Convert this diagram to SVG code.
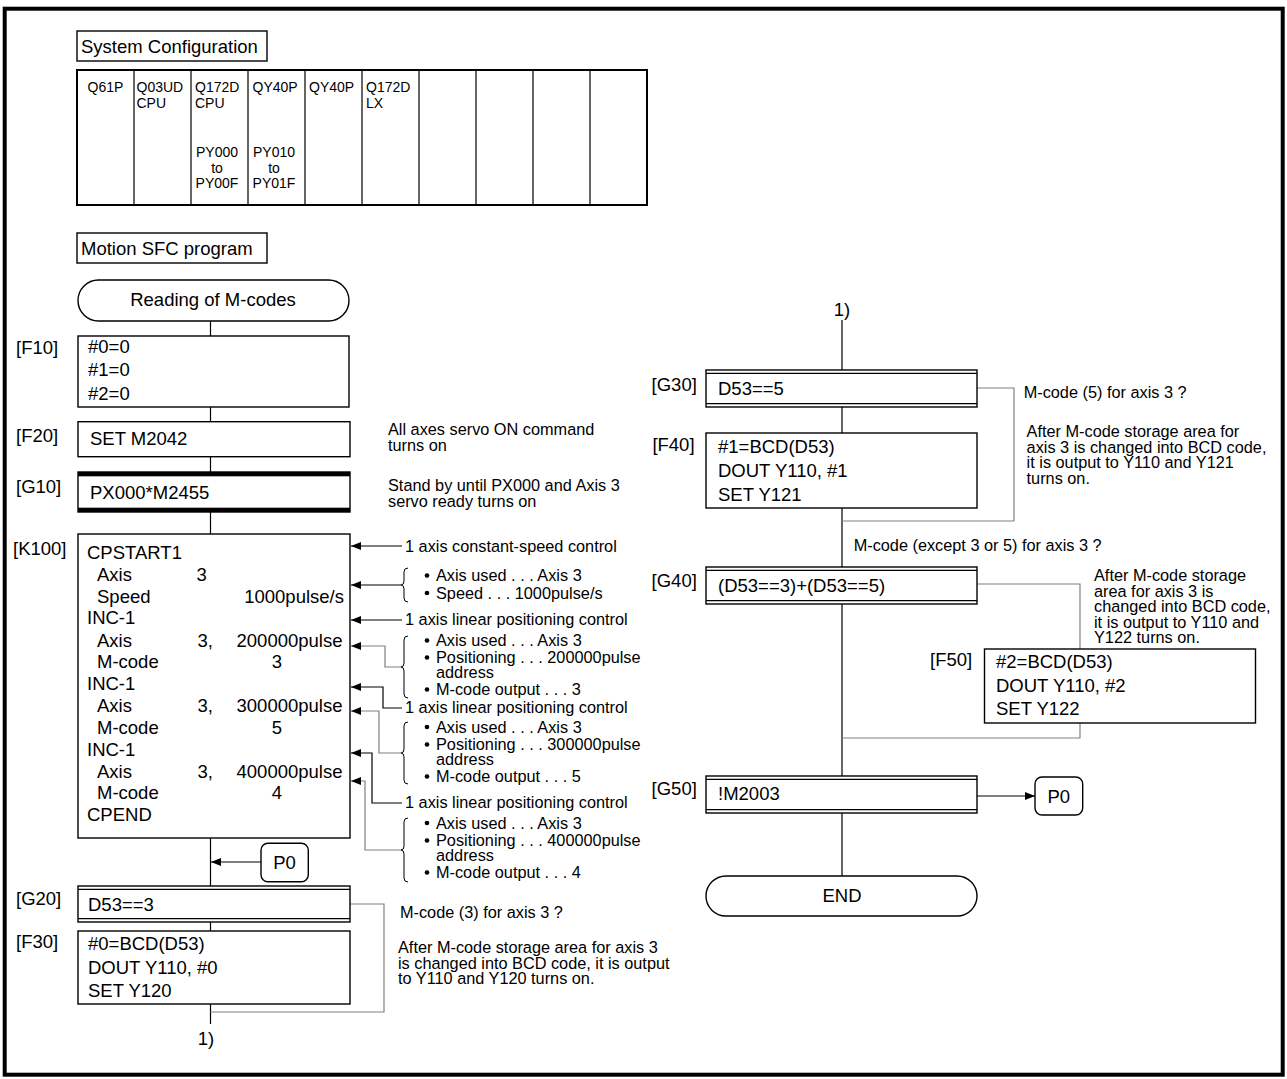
<svg xmlns="http://www.w3.org/2000/svg" width="1287" height="1079" viewBox="0 0 1287 1079">
<defs>
<marker id="ah" markerUnits="userSpaceOnUse" markerWidth="10" markerHeight="8" refX="10" refY="4" orient="auto"><path d="M0,0 L10,4 L0,8 z" fill="#000"/></marker>
<style>
text{font-family:"Liberation Sans",Arial,sans-serif;fill:#000}
.f{font-size:18.5px}
.a{font-size:16.3px}
.s{font-size:14px}
.box{fill:#fff;stroke:#000;stroke-width:1.4}
.ln{fill:none;stroke:#000;stroke-width:1.2}
.gl{fill:none;stroke:#808080;stroke-width:1.2}
.dl{fill:none;stroke:#000;stroke-width:1.2}
.br{fill:none;stroke:#000;stroke-width:1}
.m{text-anchor:middle}
.e{text-anchor:end}
</style>
</defs>
<rect x="4.7" y="8.7" width="1278" height="1066" fill="#fff" stroke="#000" stroke-width="4"/>

<g id="sysconf-title"><rect class="box" x="77" y="31" width="190" height="30"/><text class="f" x="81" y="53">System Configuration</text></g>
<g id="sysconf-table">
<rect x="77" y="70" width="570" height="135" fill="#fff" stroke="#000" stroke-width="2"/>
<path class="ln" d="M134 70V205M191 70V205M248 70V205M305 70V205M362 70V205M419 70V205M476 70V205M533 70V205M590 70V205"/>
<text class="s m" x="105.5" y="92">Q61P</text>
<text class="s" x="136.5" y="92">Q03UD</text><text class="s" x="136.5" y="107.5">CPU</text>
<text class="s" x="195" y="92">Q172D</text><text class="s" x="195" y="107.5">CPU</text>
<text class="s m" x="217" y="157">PY000</text><text class="s m" x="217" y="172.5">to</text><text class="s m" x="217" y="188">PY00F</text>
<text class="s" x="252.5" y="92">QY40P</text>
<text class="s m" x="274" y="157">PY010</text><text class="s m" x="274" y="172.5">to</text><text class="s m" x="274" y="188">PY01F</text>
<text class="s" x="309" y="92">QY40P</text>
<text class="s" x="366" y="92">Q172D</text><text class="s" x="366" y="107.5">LX</text>
</g>
<g id="sfc-title"><rect class="box" x="77" y="233" width="190" height="30"/><text class="f" x="81" y="255">Motion SFC program</text></g>

<g id="connectors">
<path class="ln" d="M210.5 321V336M210.5 407V421.7M210.5 456.7V472M210.5 512V534M210.5 838V886M210.5 922V931M210.5 1004V1024"/>
<path class="ln" d="M261 862H211" marker-end="url(#ah)"/>
<path class="gl" d="M350 904H384V1012H210.5"/>
<path class="ln" d="M402 546H351" marker-end="url(#ah)"/>
<path class="ln" d="M401 585H351" marker-end="url(#ah)"/>
<path class="ln" d="M402 620H351" marker-end="url(#ah)"/>
<path class="gl" d="M401 667H385V646H351" marker-end="url(#ah)"/>
<path class="dl" d="M402 708H383V687H351" marker-end="url(#ah)"/>
<path class="gl" d="M401 753H379V711H351" marker-end="url(#ah)"/>
<path class="dl" d="M402 803H372V753H351" marker-end="url(#ah)"/>
<path class="gl" d="M401 850H365V781H351" marker-end="url(#ah)"/>
<path class="ln" d="M842 320V370M842 407V433M842 508V567M842 604V776M842 813V876"/>
<path class="gl" d="M977 388H1014V521H842"/>
<path class="gl" d="M977 584H1080V649M1080 723V738H842"/>
<path class="ln" d="M977 796H1035" marker-end="url(#ah)"/>
</g>

<g id="start"><rect class="box" x="78" y="280" width="271" height="41" rx="20.5"/><text class="f m" x="213" y="306">Reading of M-codes</text></g>

<g id="F10"><text class="f" x="16" y="354">[F10]</text><rect class="box" x="78" y="336" width="271" height="71"/>
<text class="f" x="88" y="352.5">#0=0</text><text class="f" x="88" y="376">#1=0</text><text class="f" x="88" y="399.5">#2=0</text></g>

<g id="F20"><text class="f" x="16" y="442">[F20]</text><rect class="box" x="78" y="421.7" width="272" height="35"/>
<text class="f" x="90" y="445">SET M2042</text>
<text class="a" x="388" y="435">All axes servo ON command</text><text class="a" x="388" y="450.5">turns on</text></g>

<g id="G10"><text class="f" x="16" y="493">[G10]</text><rect class="box" x="78" y="472" width="272" height="40"/>
<rect x="78" y="472" width="272" height="4.3" fill="#000"/><rect x="78" y="507.7" width="272" height="4.3" fill="#000"/>
<text class="f" x="90" y="498.5">PX000*M2455</text>
<text class="a" x="388" y="491">Stand by until PX000 and Axis 3</text><text class="a" x="388" y="506.5">servo ready turns on</text></g>

<g id="K100"><text class="f" x="13" y="555">[K100]</text><rect class="box" x="78" y="534" width="272" height="304"/>
<text class="f" x="87" y="559.3">CPSTART1</text>
<text class="f" x="97" y="581">Axis</text><text class="f" x="196.5" y="581">3</text>
<text class="f" x="97" y="602.7">Speed</text><text class="f e" x="344" y="602.7">1000pulse/s</text>
<text class="f" x="87" y="624.3">INC-1</text>
<text class="f" x="97" y="646.7">Axis</text><text class="f" x="197.5" y="646.7">3,</text><text class="f e" x="342.5" y="646.7">200000pulse</text>
<text class="f" x="97" y="668.3">M-code</text><text class="f m" x="277" y="668.3">3</text>
<text class="f" x="87" y="690">INC-1</text>
<text class="f" x="97" y="712.3">Axis</text><text class="f" x="197.5" y="712.3">3,</text><text class="f e" x="342.5" y="712.3">300000pulse</text>
<text class="f" x="97" y="734">M-code</text><text class="f m" x="277" y="734">5</text>
<text class="f" x="87" y="755.7">INC-1</text>
<text class="f" x="97" y="777.7">Axis</text><text class="f" x="197.5" y="777.7">3,</text><text class="f e" x="342.5" y="777.7">400000pulse</text>
<text class="f" x="97" y="799.3">M-code</text><text class="f m" x="277" y="799.3">4</text>
<text class="f" x="87" y="821">CPEND</text></g>

<g id="K100-notes">
<text class="a" x="405" y="551.5">1 axis constant-speed control</text>
<path class="br" d="M408 568Q404 568 404 572V581Q404 585 401 585Q404 585 404 589V598Q404 602 408 602"/>
<circle cx="427" cy="575.5" r="2.3"/><text class="a" x="436" y="581">Axis used . . . Axis 3</text>
<circle cx="427" cy="593" r="2.3"/><text class="a" x="436" y="598.5">Speed . . . 1000pulse/s</text>
<text class="a" x="405" y="625">1 axis linear positioning control</text>
<path class="br" d="M408 636Q404 636 404 640V663Q404 667 401 667Q404 667 404 671V694Q404 698 408 698"/>
<circle cx="427" cy="640.5" r="2.3"/><text class="a" x="436" y="646">Axis used . . . Axis 3</text>
<circle cx="427" cy="657.5" r="2.3"/><text class="a" x="436" y="663">Positioning . . . 200000pulse</text>
<text class="a" x="436" y="678">address</text>
<circle cx="427" cy="689.5" r="2.3"/><text class="a" x="436" y="695">M-code output . . . 3</text>
<text class="a" x="405" y="712.7">1 axis linear positioning control</text>
<path class="br" d="M408 722Q404 722 404 726V749Q404 753 401 753Q404 753 404 757V780Q404 784 408 784"/>
<circle cx="427" cy="727" r="2.3"/><text class="a" x="436" y="732.5">Axis used  . . . Axis 3</text>
<circle cx="427" cy="744.5" r="2.3"/><text class="a" x="436" y="750">Positioning . . . 300000pulse</text>
<text class="a" x="436" y="765">address</text>
<circle cx="427" cy="776.5" r="2.3"/><text class="a" x="436" y="782">M-code output . . . 5</text>
<text class="a" x="405" y="808">1 axis linear positioning control</text>
<path class="br" d="M408 818Q404 818 404 822V846Q404 850 401 850Q404 850 404 854V878Q404 882 408 882"/>
<circle cx="427" cy="823" r="2.3"/><text class="a" x="436" y="828.5">Axis used . . . Axis 3</text>
<circle cx="427" cy="840.5" r="2.3"/><text class="a" x="436" y="846">Positioning . . . 400000pulse</text>
<text class="a" x="436" y="861">address</text>
<circle cx="427" cy="872.5" r="2.3"/><text class="a" x="436" y="878">M-code output . . . 4</text>
</g>

<g id="P0-left"><rect class="box" x="261" y="843.3" width="47.3" height="38.5" rx="7"/><text class="f m" x="284.6" y="869">P0</text></g>

<g id="G20"><text class="f" x="16" y="905">[G20]</text>
<rect class="box" x="78" y="886" width="272" height="36"/><path class="ln" d="M78 889.3H350M78 918.7H350"/>
<text class="f" x="88" y="910.5">D53==3</text>
<text class="a" x="400" y="918">M-code (3) for axis 3 ?</text></g>

<g id="F30"><text class="f" x="16" y="948">[F30]</text><rect class="box" x="78" y="931" width="272" height="73"/>
<text class="f" x="88" y="950">#0=BCD(D53)</text><text class="f" x="88" y="973.5">DOUT Y110, #0</text><text class="f" x="88" y="997">SET Y120</text>
<text class="a" x="398" y="953">After M-code storage area for axis 3</text>
<text class="a" x="398" y="968.5">is changed into BCD code, it is output</text>
<text class="a" x="398" y="984">to Y110 and Y120 turns on.</text></g>

<g id="jump-left"><text class="f m" x="206" y="1045">1)</text></g>
<g id="jump-right"><text class="f m" x="842" y="316">1)</text></g>

<g id="G30"><text class="f" x="651.6" y="391">[G30]</text>
<rect class="box" x="706" y="370" width="271" height="37"/><path class="ln" d="M706 373.3H977M706 403.7H977"/>
<text class="f" x="718" y="395">D53==5</text>
<text class="a" x="1023.7" y="398">M-code (5) for axis 3 ?</text></g>

<g id="F40"><text class="f" x="652.4" y="451">[F40]</text><rect class="box" x="706" y="433" width="271" height="75"/>
<text class="f" x="718" y="453">#1=BCD(D53)</text><text class="f" x="718" y="477">DOUT Y110, #1</text><text class="f" x="718" y="500.5">SET Y121</text>
<text class="a" x="1026.6" y="437">After M-code storage area for</text>
<text class="a" x="1026.6" y="452.5">axis 3 is changed into BCD code,</text>
<text class="a" x="1026.6" y="468">it is output to Y110 and Y121</text>
<text class="a" x="1026.6" y="483.5">turns on.</text></g>

<g id="G40"><text class="a" x="853.7" y="551">M-code (except 3 or 5) for axis 3 ?</text>
<text class="f" x="651.6" y="587">[G40]</text>
<rect class="box" x="706" y="567" width="271" height="37"/><path class="ln" d="M706 570.3H977M706 600.7H977"/>
<text class="f" x="718" y="592">(D53==3)+(D53==5)</text>
<text class="a" x="1094" y="581">After M-code storage</text>
<text class="a" x="1094" y="596.5">area for axis 3 is</text>
<text class="a" x="1094" y="612">changed into BCD code,</text>
<text class="a" x="1094" y="627.5">it is output to Y110 and</text>
<text class="a" x="1094" y="643">Y122 turns on.</text></g>

<g id="F50"><text class="f" x="930" y="666">[F50]</text><rect class="box" x="984.5" y="649" width="271" height="74"/>
<text class="f" x="996" y="668">#2=BCD(D53)</text><text class="f" x="996" y="692">DOUT Y110, #2</text><text class="f" x="996" y="715">SET Y122</text></g>

<g id="G50"><text class="f" x="651.6" y="795">[G50]</text>
<rect class="box" x="706" y="776" width="271" height="37"/><path class="ln" d="M706 779.3H977M706 809.7H977"/>
<text class="f" x="718" y="800">!M2003</text></g>

<g id="P0-right"><rect class="box" x="1035" y="777" width="47.7" height="38" rx="7"/><text class="f m" x="1058.8" y="802.5">P0</text></g>

<g id="end"><rect class="box" x="706" y="876" width="271" height="40" rx="20"/><text class="f m" x="842" y="902">END</text></g>
</svg>
